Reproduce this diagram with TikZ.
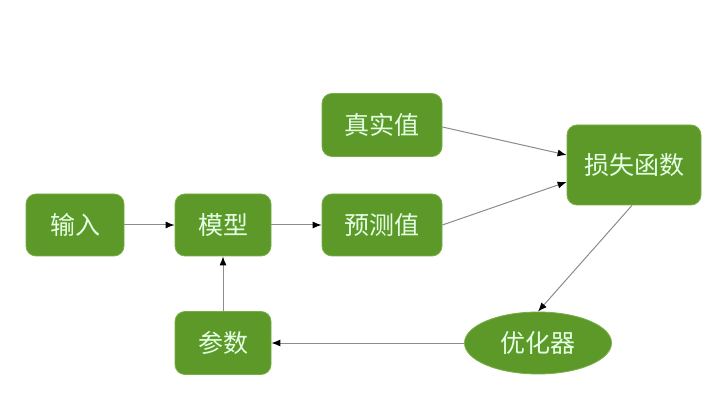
\documentclass[tikz,border=0pt]{standalone}
\usepackage{fontspec}
\setmainfont{Noto Sans CJK SC}
\usetikzlibrary{shapes.geometric,arrows.meta}
\definecolor{boxgreen}{RGB}{92,153,40}
\definecolor{boxedge}{RGB}{120,175,70}
\definecolor{linegray}{RGB}{140,140,140}
\begin{document}
\begin{tikzpicture}[x=1pt,y=1pt,
  gbox/.style={draw=boxedge,line width=0.8pt,fill=boxgreen,rounded corners=10pt,text=white!90!green,font=\fontsize{25}{28}\selectfont,inner sep=0pt},
  gell/.style={ellipse,draw=boxedge,line width=0.8pt,fill=boxgreen,text=white!90!green,font=\fontsize{25}{28}\selectfont,inner sep=0pt},
  conn/.style={draw=linegray,line width=1pt,-{Latex[length=9pt,width=7pt,color=black]}}]
\useasboundingbox (0,0) rectangle (722,407);
\fill[white] (0,0) rectangle (722,407);
\node[gbox,minimum width=98pt,minimum height=62pt] (in) at (75,182) {输入};
\node[gbox,minimum width=96pt,minimum height=62pt] (model) at (223,182) {模型};
\node[gbox,minimum width=120pt,minimum height=62pt] (pred) at (382,182) {预测值};
\node[gbox,minimum width=120pt,minimum height=63pt] (true) at (382,282) {真实值};
\node[gbox,minimum width=134pt,minimum height=80pt] (loss) at (634,242) {损失函数};
\node[gbox,minimum width=96pt,minimum height=63pt] (param) at (223,64) {参数};
\node[gell,minimum width=147pt,minimum height=62pt] (opt) at (538,64) {优化器};
\draw[conn] (in) -- (model);
\draw[conn] (model) -- (pred);
\draw[conn] (true.east |- 0,280) -- (loss.west |- 0,252);
\draw[conn] (pred.east |- 0,182) -- (loss.west |- 0,225);
\draw[conn] (loss.south -| 632,0) -- (opt.north);
\draw[conn] (opt) -- (param);
\draw[conn] (param) -- (model);
\end{tikzpicture}
\end{document}
